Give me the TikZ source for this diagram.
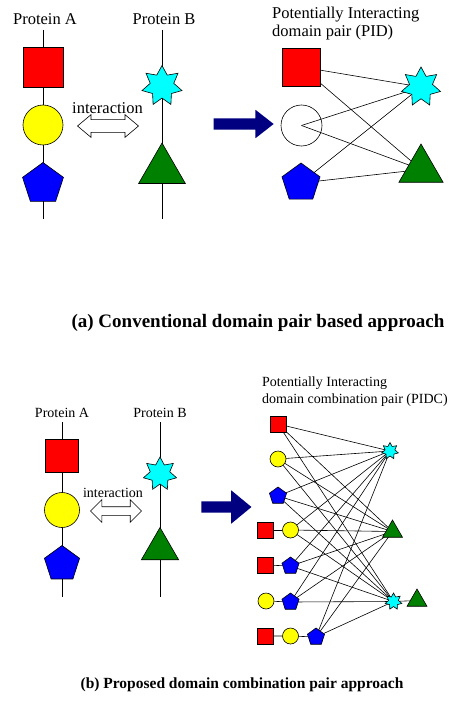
\documentclass[tikz,border=0pt]{standalone}
\usepackage{fontspec}
\setmainfont{Liberation Serif}
\usetikzlibrary{shapes.geometric,shapes.arrows,backgrounds}
\definecolor{domred}{RGB}{255,0,0}
\definecolor{domyellow}{RGB}{255,255,0}
\definecolor{domblue}{RGB}{0,0,255}
\definecolor{domcyan}{RGB}{0,255,255}
\definecolor{domgreen}{RGB}{0,128,0}
\definecolor{arrnavy}{RGB}{0,0,128}
\tikzset{
  dom/.style    ={draw,inner sep=0pt,line width=0.6pt},
  redsq/.style  ={dom,rectangle,fill=domred,minimum size=#1},
  yball/.style  ={dom,circle,fill=domyellow,minimum size=#1},
  wball/.style  ={dom,circle,minimum size=#1},
  bpent/.style  ={dom,regular polygon,regular polygon sides=5,fill=domblue,minimum size=#1},
  cstar/.style  ={dom,star,star points=7,star point ratio=1.7,fill=domcyan,minimum size=#1},
  gtri/.style   ={dom,regular polygon,regular polygon sides=3,fill=domgreen,minimum size=#1},
  bb/.style     ={line width=0.9pt},
  conn/.style   ={line width=0.6pt},
  lbl/.style    ={font=\fontsize{16.5}{18}\selectfont,inner sep=0pt},
  slbl/.style   ={font=\fontsize{14}{17}\selectfont,inner sep=0pt},
  dblarr/.style ={draw,double arrow,fill=white,line width=0.6pt,inner xsep=0pt},
  bigarr/.style ={single arrow,fill=arrnavy,inner xsep=0pt},
  capt/.style   ={font=\bfseries\fontsize{19}{21}\selectfont,inner sep=0pt},
}

\begin{document}
\begin{tikzpicture}[x=1pt,y=-1pt]
  \useasboundingbox (0,0) rectangle (449,706);

  % ---------- (a) domain pairs ----------
  \node[lbl] (aA) at (45,19) {Protein A};
  \node[lbl] (aB) at (164,19) {Protein B};
  \coordinate (aAtop) at (43,30);  \coordinate (aAbot) at (43,219);
  \coordinate (aBtop) at (162,30); \coordinate (aBbot) at (162,219);
  \node[redsq=40pt] (aSq) at (43,67) {};
  \node[yball=40pt] (aCi) at (43,125) {};
  \node[bpent=43pt] (aPe) at (43,184) {};
  \node[cstar=41pt] (aSt) at (162,86) {};
  \node[gtri=54pt]  (aTr) at (162,170) {};
  \node[lbl] (aInt) at (107.5,108) {interaction};
  \node[dblarr,minimum height=61pt,inner ysep=6pt,double arrow head extend=5pt,
        double arrow tip angle=80] (aDbl) at (108,126) {};
  \node[bigarr,minimum height=60pt,inner ysep=5.5pt,single arrow head extend=8.5pt,
        single arrow tip angle=76] (aArr) at (240,124) {};
  % candidate pairs
  \node[lbl,anchor=north west,align=left] (aPid) at (272,7)
    {Potentially Interacting\\domain pair (PID)};
  \node[redsq=38pt] (aSq2) at (301.5,67) {};
  \node[wball=41pt] (aCi2) at (301.5,125.5) {};
  \node[bpent=40pt] (aPe2) at (301,183) {};
  \node[cstar=40pt] (aSt2) at (421,87) {};
  \node[gtri=51pt]  (aTr2) at (421,169.5) {};
  \begin{scope}[on background layer]
    \draw[bb] (aAtop) -- (aAbot);
    \draw[bb] (aBtop) -- (aBbot);
    \foreach \s in {aSq2,aCi2,aPe2}
      \foreach \t in {aSt2,aTr2}
        \draw[conn] (\s.center) -- (\t.center);
  \end{scope}
  \node[capt] (aCap) at (258,323) {(a) Conventional domain pair based approach};

  % ---------- (b) domain combination pairs ----------
  \node[slbl] (bA) at (62,413) {Protein A};
  \node[slbl] (bB) at (160,413) {Protein B};
  \coordinate (bAtop) at (62,422);  \coordinate (bAbot) at (62,597);
  \coordinate (bBtop) at (160,422); \coordinate (bBbot) at (160,597);
  \node[redsq=33pt] (bSq) at (62,456) {};
  \node[yball=35pt] (bCi) at (62,510) {};
  \node[bpent=37pt] (bPe) at (62,564) {};
  \node[cstar=34pt] (bSt) at (160,474) {};
  \node[gtri=43pt]  (bTr) at (160,549) {};
  \node[slbl] (bInt) at (113,493) {interaction};
  \node[dblarr,minimum height=51pt,inner ysep=4pt,double arrow head extend=7pt,
        double arrow tip angle=90] (bDbl) at (116,511) {};
  \node[bigarr,minimum height=50pt,inner ysep=5.5pt,single arrow head extend=11pt,
        single arrow tip angle=79] (bArr) at (223,507) {};
  \node[slbl,anchor=north west,align=left] (bPidc) at (262,377)
    {Potentially Interacting\\domain combination pair (PIDC)};
  % left side: single domains and combinations
  \node[redsq=16pt] (e1) at (278,424) {};
  \node[yball=16pt] (e2) at (278,459) {};
  \node[bpent=18pt] (e3) at (278,496) {};
  \node[redsq=16pt] (c4a) at (265.5,530) {};
  \node[yball=16pt] (e4)  at (290.5,530) {};
  \node[redsq=16pt] (c5a) at (265.5,565) {};
  \node[bpent=18pt] (e5)  at (290.5,566) {};
  \node[yball=16pt] (c6a) at (266,601) {};
  \node[bpent=18pt] (e6)  at (290.5,602) {};
  \node[redsq=16pt] (c7a) at (265.5,636) {};
  \node[yball=16pt] (c7b) at (290.5,636) {};
  \node[bpent=18pt] (e7)  at (316,637) {};
  % right side
  \node[cstar=17pt] (t1) at (390,451) {};
  \node[gtri=23pt]  (t2) at (392.5,531.5) {};
  \node[cstar=17pt] (t3) at (393.5,601.5) {};
  \node[gtri=23pt]  (t3b) at (417,600.5) {};
  \begin{scope}[on background layer]
    \draw[bb] (bAtop) -- (bAbot);
    \draw[bb] (bBtop) -- (bBbot);
    \draw[conn] (c4a) -- (e4);
    \draw[conn] (c5a) -- (e5);
    \draw[conn] (c6a) -- (e6);
    \draw[conn] (c7a) -- (c7b) -- (e7);
    \draw[conn] (t3) -- (t3b);
    \foreach \s in {e1,e2,e3,e4,e5,e6,e7}
      \foreach \t in {t1,t2,t3}
        \draw[conn] (\s.center) -- (\t.center);
  \end{scope}
  \node[capt,font=\bfseries\fontsize{15.5}{18}\selectfont] (bCap) at (242,685)
    {(b) Proposed domain combination pair approach};
\end{tikzpicture}
\end{document}
